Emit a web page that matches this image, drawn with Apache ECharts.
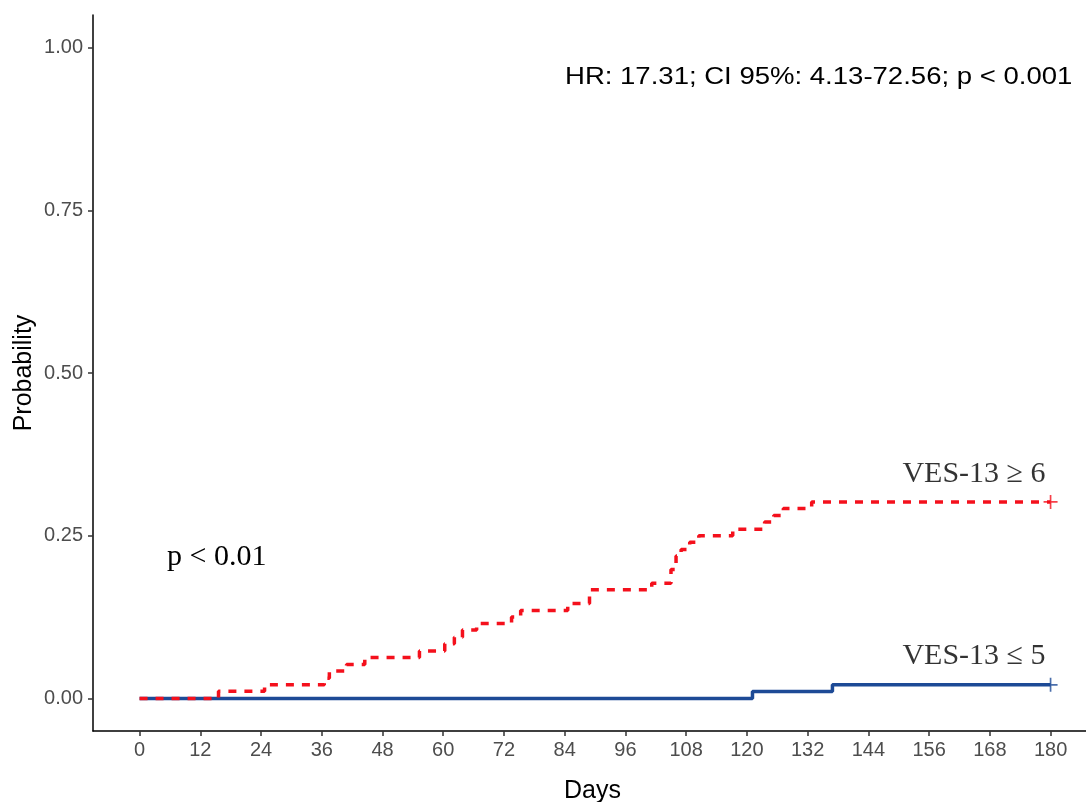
<!DOCTYPE html>
<html>
<head>
<meta charset="utf-8">
<script src="https://cdn.jsdelivr.net/npm/echarts@6/dist/echarts.min.js"></script>
<style>
html,body{margin:0;padding:0;background:#fff;}
#chart{width:1086px;height:802px;}
</style>
</head>
<body>
<div id="chart"></div>
<script>
// Kaplan-Meier cumulative probability, VES-13 >= 6 (red dashed)
var highDays = [0, 15.6, 24.7, 36.5, 37.5, 40.9, 44.5, 55.3, 60.3, 62.2, 63.8, 66.6, 73.5, 75.3, 84.6, 88.9, 101.2, 105, 106, 107, 108.7, 110.5, 117.2, 123.5, 125.3, 127.2, 132.8, 180];
var highProb = [0, 0.011, 0.021, 0.031, 0.042, 0.052, 0.063, 0.073, 0.084, 0.094, 0.105, 0.115, 0.125, 0.135, 0.146, 0.167, 0.177, 0.198, 0.219, 0.229, 0.240, 0.250, 0.260, 0.271, 0.281, 0.292, 0.302, 0.302];
// VES-13 <= 5 (blue solid)
var lowDays = [0, 121.1, 136.9, 180];
var lowProb = [0, 0.0105, 0.021, 0.021];
// axis ticks
var xTicks = [0, 12, 24, 36, 48, 60, 72, 84, 96, 108, 120, 132, 144, 156, 168, 180];
var yTicks = [0, 0.25, 0.5, 0.75, 1.0];
var yTickLabels = ['0.00', '0.25', '0.50', '0.75', '1.00'];
var labelHigh = 'VES-13 \u2265 6';
var labelLow = 'VES-13 \u2264 5';
var pText = 'p < 0.01';
var hrText = 'HR: 17.31; CI 95%: 4.13-72.56; p < 0.001';

function zip(a, b) { return a.map(function (v, i) { return [v, b[i]]; }); }

var plus = 'path://M4.4,0h1.2v4.4h4.4v1.2h-4.4v4.4h-1.2v-4.4h-4.4v-1.2h4.4z';
var redC = '#f4101c';
var blueC = '#1d4a96';
var sans = '"Liberation Sans", Arial, Helvetica, sans-serif';
var serif = '"Liberation Serif", "Times New Roman", serif';

var chart = echarts.init(document.getElementById('chart'), null, {renderer: 'canvas'});
chart.setOption({
  animation: false,
  backgroundColor: '#fff',
  grid: {left: 93, right: 0, top: 15, bottom: 71, containLabel: false, outerBoundsMode: 'none'},
  xAxis: {
    type: 'value', min: -9.2, max: 187,
    name: 'Days', nameLocation: 'middle', nameGap: 48,
    nameTextStyle: {fontFamily: sans, fontSize: 25, color: '#000', padding: [0, 0, 0, 6]},
    axisLine: {show: true, onZero: false, lineStyle: {color: '#000', width: 1.5}},
    axisTick: {show: true, customValues: xTicks, length: 5, lineStyle: {color: '#333', width: 1.5}},
    axisLabel: {customValues: xTicks, color: '#4d4d4d', fontFamily: sans, fontSize: 20, margin: 9},
    splitLine: {show: false}
  },
  yAxis: {
    type: 'value', min: -0.05, max: 1.05,
    name: 'Probability', nameLocation: 'middle', nameGap: 56, nameRotate: 90, nameMoveOverlap: false,
    nameTextStyle: {fontFamily: sans, fontSize: 25, color: '#000'},
    axisLine: {show: true, onZero: false, lineStyle: {color: '#000', width: 1.5}},
    axisTick: {show: true, customValues: yTicks, length: 5, lineStyle: {color: '#333', width: 1.5}},
    axisLabel: {
      customValues: yTicks, color: '#4d4d4d', fontFamily: sans, fontSize: 20, margin: 10,
      formatter: function (v) { var i = yTicks.indexOf(v); return i >= 0 ? yTickLabels[i] : ''; }
    },
    splitLine: {show: false}
  },
  series: [
    {
      type: 'line', step: 'end', data: zip(lowDays, lowProb), showSymbol: false, symbol: 'none',
      lineStyle: {color: blueC, width: 3.5}, z: 2
    },
    {
      type: 'line', step: 'end', data: zip(highDays, highProb), showSymbol: false, symbol: 'none',
      lineStyle: {color: redC, width: 3.5, type: [8, 8]}, z: 3
    },
    {
      type: 'scatter', data: [[highDays[highDays.length - 1], highProb[highProb.length - 1]]],
      symbol: plus, symbolSize: 14, itemStyle: {color: redC}, z: 4,
      label: {show: true, position: [2, -21], align: 'right', verticalAlign: 'middle', formatter: labelHigh, fontFamily: serif, fontSize: 30, color: '#000'}
    },
    {
      type: 'scatter', data: [[lowDays[lowDays.length - 1], lowProb[lowProb.length - 1]]],
      symbol: plus, symbolSize: 14, itemStyle: {color: blueC}, z: 4,
      label: {show: true, position: [2, -22], align: 'right', verticalAlign: 'middle', formatter: labelLow, fontFamily: serif, fontSize: 30, color: '#000'}
    }
  ],
  graphic: [
    {type: 'text', x: 565, y: 77, scaleX: 1.147, style: {text: hrText, font: '24px ' + sans, fill: '#000', textVerticalAlign: 'middle'}},
    {type: 'text', x: 167, y: 557, style: {text: pText, font: '30px ' + serif, fill: '#000', textVerticalAlign: 'middle'}}
  ]
});
</script>
</body>
</html>
